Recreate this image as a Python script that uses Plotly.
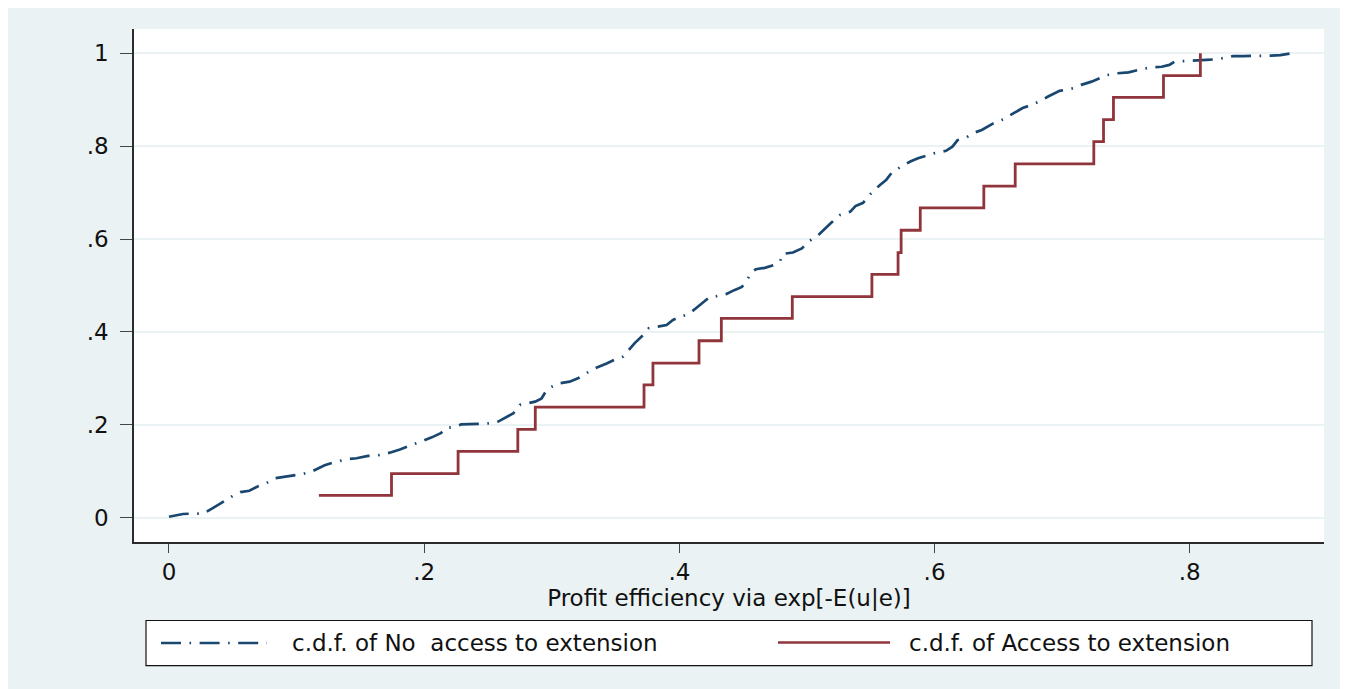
import plotly.graph_objects as go

# ---------------- data ----------------
x_ticks = [0, 0.2, 0.4, 0.6, 0.8]
x_tick_labels = ["0", ".2", ".4", ".6", ".8"]
y_ticks = [0, 0.2, 0.4, 0.6, 0.8, 1.0]
y_tick_labels = ["0", ".2", ".4", ".6", ".8", "1"]

series_names = ["c.d.f. of No\u00a0 access to extension", "c.d.f. of Access to extension"]
x_title = "Profit efficiency via exp[-E(u|e)]"

# c.d.f. of No access to extension
no_access_x = [0.000, 0.011, 0.020, 0.027, 0.034, 0.040, 0.045, 0.050, 0.056, 0.063,
               0.070, 0.076, 0.083, 0.091, 0.097, 0.105, 0.113, 0.122, 0.128, 0.139,
               0.147, 0.156, 0.165, 0.173, 0.181, 0.186, 0.194, 0.200, 0.206, 0.213,
               0.217, 0.224, 0.229, 0.242, 0.250, 0.258, 0.263, 0.270, 0.275, 0.280,
               0.287, 0.292, 0.296, 0.300, 0.305, 0.314, 0.321, 0.327, 0.334, 0.343,
               0.349, 0.356, 0.360, 0.365, 0.373, 0.376, 0.382, 0.390, 0.395, 0.402,
               0.408, 0.413, 0.419, 0.424, 0.429, 0.437, 0.443, 0.449, 0.453, 0.457,
               0.460, 0.467, 0.474, 0.479, 0.481, 0.489, 0.496, 0.502, 0.509, 0.514,
               0.519, 0.526, 0.534, 0.538, 0.544, 0.549, 0.553, 0.557, 0.562, 0.567,
               0.574, 0.581, 0.587, 0.594, 0.600, 0.609, 0.614, 0.618, 0.625, 0.630,
               0.637, 0.646, 0.654, 0.662, 0.669, 0.676, 0.682, 0.689, 0.698, 0.709,
               0.715, 0.723, 0.729, 0.735, 0.743, 0.752, 0.758, 0.770, 0.778, 0.784,
               0.788, 0.795, 0.800, 0.813, 0.821, 0.829, 0.834, 0.842, 0.855, 0.864,
               0.871, 0.880]
no_access_y = [0.002, 0.008, 0.009, 0.009, 0.020, 0.030, 0.040, 0.047, 0.055, 0.058,
               0.068, 0.074, 0.085, 0.088, 0.090, 0.094, 0.101, 0.113, 0.118, 0.126,
               0.128, 0.133, 0.135, 0.140, 0.147, 0.152, 0.161, 0.167, 0.173, 0.182,
               0.193, 0.196, 0.201, 0.202, 0.203, 0.207, 0.214, 0.225, 0.243, 0.246,
               0.250, 0.257, 0.275, 0.282, 0.289, 0.293, 0.301, 0.311, 0.322, 0.332,
               0.340, 0.347, 0.361, 0.376, 0.397, 0.408, 0.411, 0.415, 0.426, 0.433,
               0.440, 0.451, 0.465, 0.476, 0.477, 0.482, 0.490, 0.497, 0.512, 0.530,
               0.535, 0.538, 0.544, 0.553, 0.568, 0.571, 0.580, 0.596, 0.609, 0.623,
               0.635, 0.652, 0.659, 0.671, 0.678, 0.695, 0.706, 0.716, 0.727, 0.745,
               0.756, 0.767, 0.774, 0.780, 0.785, 0.790, 0.799, 0.813, 0.819, 0.828,
               0.835, 0.849, 0.858, 0.871, 0.882, 0.889, 0.896, 0.907, 0.919, 0.925,
               0.932, 0.939, 0.946, 0.953, 0.957, 0.959, 0.963, 0.970, 0.971, 0.975,
               0.982, 0.984, 0.984, 0.986, 0.987, 0.991, 0.994, 0.994, 0.994, 0.995,
               0.996, 1.000]

# c.d.f. of Access to extension (step function, 21 observations)
access_x = [0.1175, 0.1744, 0.2266, 0.2734, 0.2871, 0.3723, 0.3793, 0.4154, 0.4329, 0.4885,
            0.5509, 0.5714, 0.5738, 0.5888, 0.6386, 0.6632, 0.7248, 0.7324, 0.7402, 0.7794,
            0.8083]
access_y = [0.048, 0.095, 0.143, 0.190, 0.238, 0.286, 0.333, 0.381, 0.429, 0.476,
            0.524, 0.571, 0.619, 0.667, 0.714, 0.762, 0.810, 0.857, 0.905, 0.952,
            1.000]

# ---------------- styling ----------------
W, H = 1356, 689          # page adds an 8px body margin; extra is cropped by the window
OFF = 8
ML, MR, MT, MB = 126, 40, 21, 155
PW, PH = W - ML - MR, H - MT - MB

BG = "#eaf2f3"
NAVY = "#1a476f"
MAROON = "#90353b"
AXIS = "#2b2b2b"
FONT = "DejaVu Sans"
DASHDOT = "20px,8.5px,1.6px,8.5px"


def px_x(p):
    """page pixel -> paper x"""
    return (p - OFF - ML) / PW


def px_y(p):
    """page pixel -> paper y"""
    return (H - MB - (p - OFF)) / PH


fig = go.Figure()
fig.add_trace(go.Scatter(x=no_access_x, y=no_access_y, mode="lines", name=series_names[0],
                         line=dict(color=NAVY, width=2.7, dash=DASHDOT), showlegend=False))
fig.add_trace(go.Scatter(x=access_x, y=access_y, mode="lines", name=series_names[1],
                         line=dict(color=MAROON, width=2.8, shape="hv"), showlegend=False))

shapes = [
    # legend box
    dict(type="rect", xref="paper", yref="paper", x0=px_x(146), x1=px_x(1312),
         y0=px_y(665.7), y1=px_y(620.5), fillcolor="white",
         line=dict(color="#111111", width=1.2), layer="above"),
    # legend samples
    dict(type="line", xref="paper", yref="paper", x0=px_x(161), x1=px_x(267),
         y0=px_y(643), y1=px_y(643), line=dict(color=NAVY, width=2.4, dash=DASHDOT),
         layer="above"),
    dict(type="line", xref="paper", yref="paper", x0=px_x(778), x1=px_x(890),
         y0=px_y(642.5), y1=px_y(642.5), line=dict(color=MAROON, width=2.6),
         layer="above"),
]

annotations = [
    dict(xref="paper", yref="paper", x=px_x(290), y=px_y(643), xanchor="left",
         yanchor="middle", text=series_names[0], showarrow=False,
         font=dict(family=FONT, size=23, color="#111111")),
    dict(xref="paper", yref="paper", x=px_x(907), y=px_y(643), xanchor="left",
         yanchor="middle", text=series_names[1], showarrow=False,
         font=dict(family=FONT, size=23, color="#111111")),
]

fig.update_layout(
    template="none",
    width=W, height=H,
    margin=dict(l=ML, r=MR, t=MT, b=MB, pad=0),
    paper_bgcolor=BG,
    plot_bgcolor="white",
    showlegend=False,
    shapes=shapes,
    annotations=annotations,
    font=dict(family=FONT, size=22, color="#111111"),
    xaxis=dict(
        range=[-0.0274, 0.9052], tickvals=x_ticks, ticktext=x_tick_labels,
        showgrid=False, zeroline=False, showline=True, linecolor=AXIS, linewidth=1.6,
        ticks="outside", ticklen=9, tickwidth=1.4, tickcolor="#444444",
        tickfont=dict(family=FONT, size=23, color="#111111"),
        title=dict(text=x_title, font=dict(family=FONT, size=23, color="#111111"), standoff=0),
        automargin=False, mirror=False,
    ),
    yaxis=dict(
        range=[-0.0523, 1.0523], tickvals=y_ticks, ticktext=y_tick_labels,
        showgrid=True, gridcolor=BG, gridwidth=2, zeroline=False,
        showline=True, linecolor=AXIS, linewidth=1.6,
        ticks="outside", ticklen=12, tickwidth=1.4, tickcolor="#444444",
        tickfont=dict(family=FONT, size=23, color="#111111"),
        ticklabelstandoff=7,
        automargin=False, mirror=False,
    ),
)

fig.write_html("out.html", post_script="document.body.style.overflow='hidden';")
